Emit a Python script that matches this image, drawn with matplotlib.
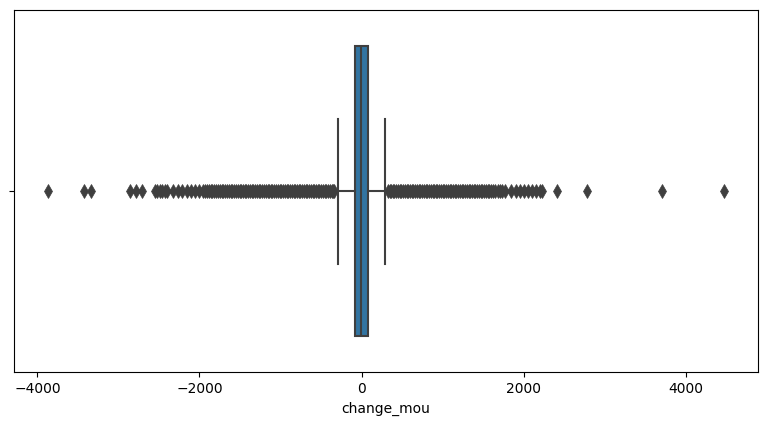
import matplotlib
matplotlib.use("Agg")
import matplotlib.pyplot as plt

# box summary for change_mou
col_name = "change_mou"
q1, med, q3 = -83, -5, 80
whisker_lo, whisker_hi = -297, 288

# outliers below the lower whisker (the band is thousands of points, thinned here)
fliers_low = [
    -3873, -3425, -3342, -2860, -2786, -2712,
    -2550, -2520, -2490, -2460, -2430, -2400,
    -2330, -2270, -2210, -2150, -2100, -2050, -2000, -1960,
    -1930, -1905, -1885, -1860, -1840, -1815, -1795, -1770, -1750,
    -1725, -1705, -1680, -1660, -1640, -1615, -1595, -1570, -1550,
    -1530, -1505, -1485, -1460, -1440, -1420, -1400, -1375, -1355,
    -1335, -1310, -1290, -1270, -1250, -1225, -1205, -1185, -1160,
    -1140, -1120, -1100, -1075, -1055, -1035, -1010, -990, -970,
    -950, -925, -905, -885, -860, -840, -820, -800, -775, -755,
    -735, -710, -690, -670, -650, -625, -605, -585, -560, -540,
    -520, -500, -475, -455, -435, -410, -390, -370, -350, -335,
]
# outliers above the upper whisker
fliers_high = [
    330, 345, 365, 385, 405, 425, 450, 470, 490, 510, 535, 555,
    575, 595, 620, 640, 660, 680, 705, 725, 745, 765, 790, 810,
    830, 850, 875, 895, 915, 935, 960, 980, 1000, 1020, 1045,
    1065, 1085, 1105, 1130, 1150, 1170, 1190, 1215, 1235, 1255,
    1275, 1300, 1320, 1340, 1360, 1385, 1405, 1425, 1445, 1470,
    1490, 1510, 1530, 1555, 1575, 1600, 1625, 1650, 1680, 1705, 1728,
    1765, 1840, 1900, 1950, 2000, 2050, 2100, 2150, 2200, 2222,
    2407, 2778, 3711, 4473,
]

box_color = "#3274a1"
line_color = "#3f3f3f"

fig = plt.figure(figsize=(7.68, 4.22), dpi=100)
ax = fig.add_axes([0.018, 0.118, 0.969, 0.858])

stats = [{
    "med": med, "q1": q1, "q3": q3,
    "whislo": whisker_lo, "whishi": whisker_hi,
    "fliers": fliers_low + fliers_high,
}]

ax.bxp(
    stats, positions=[0], widths=0.8, capwidths=0.4,
    orientation="horizontal", patch_artist=True,
    boxprops=dict(facecolor=box_color, edgecolor=line_color, linewidth=1.5),
    medianprops=dict(color=line_color, linewidth=1.5),
    whiskerprops=dict(color=line_color, linewidth=1.5),
    capprops=dict(color=line_color, linewidth=1.5),
    flierprops=dict(marker="d", markerfacecolor=line_color,
                    markeredgecolor=line_color, markersize=7.2,
                    markeredgewidth=0.5, linestyle="none"),
)

ax.set_ylim(0.5, -0.5)
ax.set_yticks([0])
ax.set_yticklabels([""])
ax.set_xticks([-4000, -2000, 0, 2000, 4000])
ax.set_xlabel(col_name)

fig.savefig("out.png", dpi=100)
